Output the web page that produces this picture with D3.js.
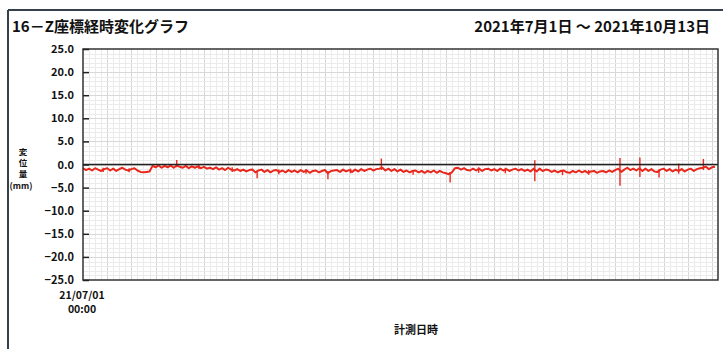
<!DOCTYPE html>
<html>
<head>
<meta charset="utf-8">
<script src="https://cdn.jsdelivr.net/npm/d3@7/dist/d3.min.js"></script>
<style>
  html, body { margin: 0; padding: 0; background: #fff; }
  svg { display: block; }
  text { font-family: "Noto Sans CJK JP", "Noto Sans", sans-serif; font-weight: bold; fill: #111; }
</style>
</head>
<body>
<svg id="chart" width="723" height="349"></svg>
<script>
// Z-coordinate displacement, 12-hour readings from 2021-07-01 00:00 (mm)
const startTime = "2021-07-01T00:00:00";
const stepHours = 12;
const zValues = [
  -0.8,-1.2,-0.9,-1.3,-0.8,-1.1,-1.4,-1.0,-0.8,-1.3,-0.9,-1.4,-1.0,-0.7,
  -1.1,-1.3,-1.0,-0.8,-1.3,-1.6,-1.7,-1.6,-1.5,-0.3,-0.6,-0.2,-0.7,-0.3,
  -0.6,-0.2,-0.7,-0.2,-0.5,-0.7,-0.3,-0.8,-0.4,-0.7,-0.4,-0.8,-0.5,-0.9,
  -0.7,-1.0,-0.6,-1.1,-0.8,-1.2,-0.7,-1.1,-1.3,-1.0,-1.4,-1.1,-1.5,-1.2,
  -1.1,-1.7,-1.3,-1.1,-1.6,-1.2,-1.7,-1.3,-1.2,-1.6,-1.3,-1.7,-1.2,-1.6,
  -1.3,-1.7,-1.2,-1.6,-1.3,-1.8,-1.4,-1.3,-1.7,-1.4,-1.2,-1.9,-1.4,-1.3,
  -1.2,-1.6,-1.1,-1.5,-1.2,-1.6,-1.1,-1.5,-1.0,-1.4,-1.1,-0.9,-1.3,-1.0,
  -0.9,-0.7,-1.3,-0.9,-1.4,-1.0,-1.5,-1.1,-1.6,-1.3,-1.7,-1.4,-1.3,-1.7,
  -1.4,-1.8,-1.4,-1.7,-1.3,-1.8,-1.4,-1.7,-1.9,-2.1,-1.7,-0.8,-0.7,-1.1,
  -0.8,-1.2,-1.3,-0.9,-1.3,-0.9,-1.4,-1.0,-0.9,-1.3,-1.0,-1.4,-0.9,-1.3,
  -1.0,-1.4,-1.1,-0.9,-1.3,-1.0,-1.4,-1.1,-1.5,-0.9,-1.5,-0.9,-1.4,-1.1,
  -1.2,-1.6,-1.3,-1.7,-1.4,-1.3,-1.7,-1.8,-1.4,-1.7,-1.3,-1.7,-1.4,-1.8,
  -1.5,-1.4,-1.8,-1.5,-1.4,-1.7,-1.3,-1.6,-1.2,-0.9,-1.6,-1.1,-0.7,-1.2,
  -0.9,-1.3,-0.8,-1.4,-0.9,-1.4,-1.0,-1.5,-1.6,-1.1,-0.9,-1.4,-1.0,-1.5,
  -1.1,-1.4,-1.0,-1.5,-1.1,-0.9,-1.4,-1.0,-0.8,-0.7,-0.5,-1.0,-0.6,-0.5
];

// Short-lived excursions: [time, low (mm), high (mm)]
const spikes = [
  ["2021-07-04T08:00:00", -1.6, -0.7],
  ["2021-07-08T15:00:00", -1.7, -0.8],
  ["2021-07-16T12:00:00", -0.6,  1.0],
  ["2021-07-20T04:00:00", -1.0,  0.0],
  ["2021-07-25T16:00:00", -1.6, -0.6],
  ["2021-07-29T19:00:00", -3.0, -1.3],
  ["2021-08-02T09:00:00", -2.1, -1.1],
  ["2021-08-06T21:00:00", -2.0, -1.0],
  ["2021-08-10T12:00:00", -3.2, -1.4],
  ["2021-08-14T06:00:00", -1.9, -0.9],
  ["2021-08-19T08:00:00", -1.2,  1.3],
  ["2021-08-24T14:00:00", -2.2, -1.2],
  ["2021-08-30T17:00:00", -3.9, -1.6],
  ["2021-09-04T10:00:00", -1.8, -0.6],
  ["2021-09-08T20:00:00", -1.9, -0.7],
  ["2021-09-13T17:00:00", -3.6,  0.9],
  ["2021-09-18T07:00:00", -2.3, -1.3],
  ["2021-09-22T15:00:00", -2.2, -1.2],
  ["2021-09-27T19:00:00", -4.6,  1.4],
  ["2021-10-01T02:00:00", -2.7,  1.5],
  ["2021-10-04T06:00:00", -2.8, -1.1],
  ["2021-10-07T12:00:00", -2.0,  0.2],
  ["2021-10-11T14:00:00", -1.2,  1.2]
];

const yTicks = [25, 20, 15, 10, 5, 0, -5, -10, -15, -20, -25];
const xDomain = ["2021-07-01T00:00:00", "2021-10-14T00:00:00"];
const xTickLabel = ["21/07/01", "00:00"];
const titleText = "16－Z座標経時変化グラフ";
const periodText = "2021年7月1日 ～ 2021年10月13日";
const yTitle = ["変", "位", "量"];
const yUnit = "(mm)";
const xTitle = "計測日時";

const svg = d3.select("#chart");
const margin = { left: 83, right: 5, top: 49, bottom: 69 };
const W = 723, H = 349;

const x = d3.scaleTime()
  .domain(xDomain.map(d => new Date(d)))
  .range([margin.left, W - margin.right]);
const y = d3.scaleLinear()
  .domain([-25, 25])
  .range([H - margin.bottom, margin.top]);

// outer frame (top and left edges)
svg.append("line").attr("x1", 8).attr("x2", W).attr("y1", 10).attr("y2", 10)
  .attr("stroke", "#34404c").attr("stroke-width", 2);
svg.append("line").attr("x1", 8).attr("x2", 8).attr("y1", 10).attr("y2", H)
  .attr("stroke", "#34404c").attr("stroke-width", 2);

// titles
svg.append("text").attr("x", 12).attr("y", 32).attr("font-size", 15).text(titleText);
svg.append("text").attr("x", 710).attr("y", 32).attr("font-size", 15)
  .attr("text-anchor", "end").text(periodText);

// grid
const grid = svg.append("g");
const days = d3.timeDay.range(x.domain()[0], x.domain()[1]);
grid.selectAll("line.v").data(days.slice(1)).join("line")
  .attr("x1", d => Math.round(x(d)) + 0.5).attr("x2", d => Math.round(x(d)) + 0.5)
  .attr("y1", y(25)).attr("y2", y(-25))
  .attr("stroke", (d, i) => ((i + 1) % 4 === 0 ? "#d6d6d6" : "#ebebeb"))
  .attr("stroke-width", 1);
grid.selectAll("line.h").data(d3.range(-24, 25, 1)).join("line")
  .attr("x1", x.range()[0]).attr("x2", x.range()[1])
  .attr("y1", d => Math.round(y(d)) + 0.5).attr("y2", d => Math.round(y(d)) + 0.5)
  .attr("stroke", d => (d % 5 === 0 ? "#d8d8d8" : "#ebebeb"))
  .attr("stroke-width", 1);

// data trace
const t0 = new Date(startTime).getTime();
const series = zValues.map((v, i) => ({ t: new Date(t0 + i * stepHours * 3600e3), v }));
const line = d3.line().x(d => x(d.t)).y(d => y(d.v));
svg.append("path").datum(series).attr("d", line)
  .attr("fill", "none").attr("stroke", "#e8281c").attr("stroke-width", 2)
  .attr("stroke-linejoin", "round");
svg.append("g").selectAll("line").data(spikes).join("line")
  .attr("x1", d => x(new Date(d[0]))).attr("x2", d => x(new Date(d[0])))
  .attr("y1", d => y(d[1])).attr("y2", d => y(d[2]))
  .attr("stroke", "#e8281c").attr("stroke-width", 1.4);

// zero line
svg.append("line").attr("x1", x.range()[0]).attr("x2", x.range()[1])
  .attr("y1", y(0)).attr("y2", y(0)).attr("stroke", "#222").attr("stroke-width", 1.6);

// plot frame
svg.append("rect").attr("x", x.range()[0]).attr("y", y(25))
  .attr("width", x.range()[1] - x.range()[0]).attr("height", y(-25) - y(25))
  .attr("fill", "none").attr("stroke", "#333").attr("stroke-width", 1.5);

// y axis: inward ticks and labels
const yAxis = d3.axisLeft(y).tickValues(yTicks).tickSize(-6).tickPadding(9)
  .tickFormat(d3.format(".1f"));
const gy = svg.append("g").attr("transform", `translate(${x.range()[0]},0)`).call(yAxis);
gy.select(".domain").remove();
gy.selectAll(".tick line").attr("stroke", "#222").attr("stroke-width", 1.5);
gy.selectAll(".tick text").attr("font-size", 11)
  .attr("font-family", "'Noto Sans CJK JP', sans-serif").attr("font-weight", "bold").attr("fill", "#222");

// x axis start label
svg.append("text").attr("x", x.range()[0] - 1).attr("y", 299)
  .attr("text-anchor", "middle").attr("font-size", 10.5).text(xTickLabel[0]);
svg.append("text").attr("x", x.range()[0] - 1).attr("y", 313)
  .attr("text-anchor", "middle").attr("font-size", 10.5).text(xTickLabel[1]);

// axis titles
yTitle.forEach((c, i) => svg.append("text").attr("x", 23).attr("y", 155 + i * 11)
  .attr("text-anchor", "middle").attr("font-size", 8.5).text(c));
svg.append("text").attr("x", 21).attr("y", 189).attr("text-anchor", "middle")
  .attr("font-size", 8.5).text(yUnit);
svg.append("text").attr("x", 416).attr("y", 334).attr("text-anchor", "middle")
  .attr("font-size", 11).text(xTitle);
</script>
</body>
</html>
